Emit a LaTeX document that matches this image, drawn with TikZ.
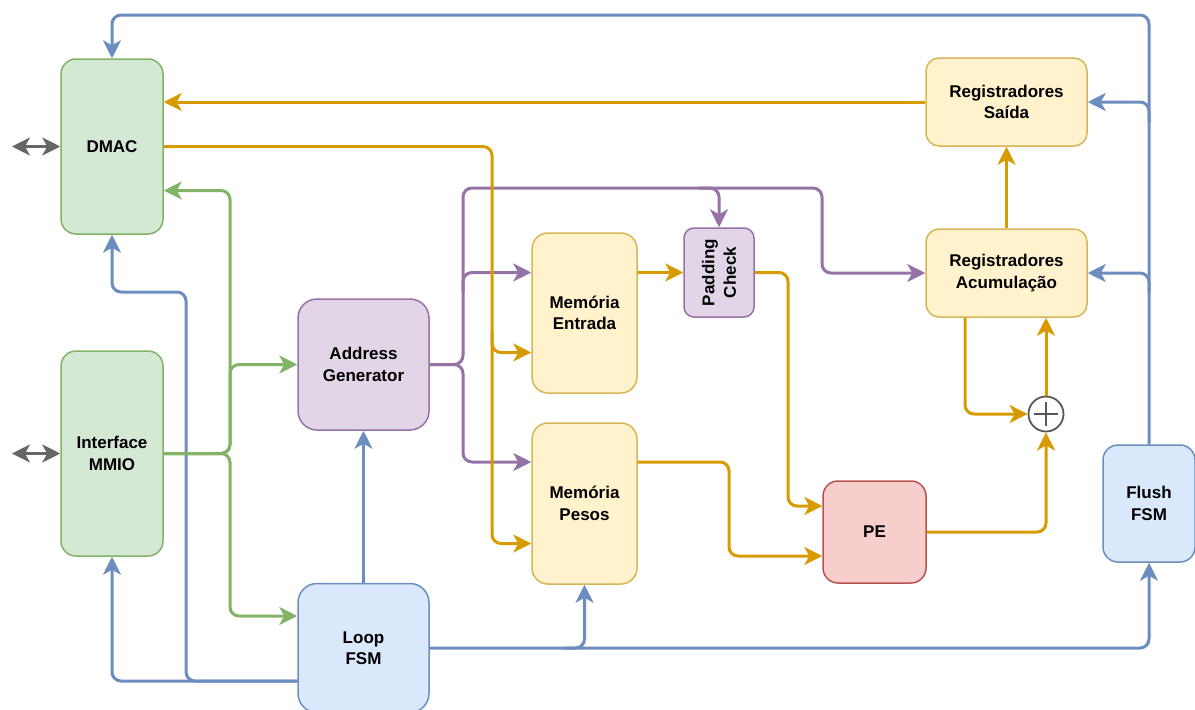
\documentclass[tikz,border=0pt]{standalone}
\usepackage{fontspec}
\setmainfont{Liberation Sans}
\usetikzlibrary{arrows.meta,calc}

\definecolor{gfill}{HTML}{D5E8D4}\definecolor{gline}{HTML}{82B366}
\definecolor{pfill}{HTML}{E1D5E7}\definecolor{pline}{HTML}{9673A6}
\definecolor{yfill}{HTML}{FFF2CC}\definecolor{yline}{HTML}{D6B656}
\definecolor{bfill}{HTML}{DAE8FC}\definecolor{bline}{HTML}{6C8EBF}
\definecolor{rfill}{HTML}{F8CECC}\definecolor{rline}{HTML}{B85450}
\definecolor{orng}{HTML}{D79B00}
\definecolor{gry}{HTML}{666666}

\tikzset{
  box/.style={rectangle, line width=1.5pt, align=center, inner sep=0pt,
    font=\bfseries\fontsize{17}{21.5}\selectfont, text=black},
  gbox/.style={box, draw=gline, fill=gfill},
  pbox/.style={box, draw=pline, fill=pfill},
  ybox/.style={box, draw=yline, fill=yfill},
  bbox/.style={box, draw=bline, fill=bfill},
  rbox/.style={box, draw=rline, fill=rfill},
  wire/.style={line width=3pt, rounded corners=9pt},
  head/.style={Stealth[length=18pt,width=18pt,inset=5pt]},
  tip/.style={-{Stealth[length=18pt,width=18pt,inset=5pt]}},
  bl/.style={wire, tip, draw=bline},
  gr/.style={wire, tip, draw=gline},
  pu/.style={wire, tip, draw=pline},
  or/.style={wire, tip, draw=orng},
  io/.style={wire, draw=gry, {Stealth[length=18pt,width=18pt,inset=5pt]}-{Stealth[length=18pt,width=18pt,inset=5pt]}},
}

\begin{document}
\begin{tikzpicture}[x=1pt,y=-1pt]
\useasboundingbox (0,0) rectangle (1195,710);

% blocks
\node[gbox, rounded corners=15pt, minimum width=102pt, minimum height=175pt] (dmac) at (112,146.5) {DMAC};
\node[gbox, rounded corners=15pt, minimum width=102pt, minimum height=205pt] (mmio) at (112,453.5) {Interface\\MMIO};
\node[pbox, rounded corners=19pt, minimum width=131pt, minimum height=131pt] (ag) at (363.5,364.5) {Address\\Generator};
\node[bbox, rounded corners=19pt, minimum width=131pt, minimum height=129pt] (loop) at (363.5,648) {Loop\\FSM};
\node[ybox, rounded corners=16pt, minimum width=105pt, minimum height=160pt] (me) at (584.5,313) {Memória\\Entrada};
\node[ybox, rounded corners=16pt, minimum width=105pt, minimum height=161pt] (mp) at (584.5,503.5) {Memória\\Pesos};
\node[pbox, rounded corners=10pt, minimum width=70pt, minimum height=89pt] (pc) at (719,272.5) {};
\node[box, rotate=90] at (pc.center) {Padding\\Check};
\node[rbox, rounded corners=15pt, minimum width=103pt, minimum height=102pt] (pe) at (874.5,532) {PE};
\node[ybox, rounded corners=13pt, minimum width=161pt, minimum height=88pt] (rs) at (1006.5,102) {Registradores\\Saída};
\node[ybox, rounded corners=13pt, minimum width=161pt, minimum height=88pt] (ra) at (1006.5,273) {Registradores\\Acumulação};
\node[bbox, rounded corners=15pt, minimum width=92pt, minimum height=117pt] (flush) at (1149,503.5) {Flush\\FSM};
\node[circle, draw=gry!85!black, fill=white, line width=1.8pt, minimum size=35pt, inner sep=0pt] (add) at (1046,414) {};
\draw[gry!85!black, line width=1.6pt] ($(add.center)+(-12,0)$) -- ($(add.center)+(12,0)$)
  ($(add.center)+(0,-12)$) -- ($(add.center)+(0,12)$);

% rails and bends
\coordinate (yT) at (0,15);
\coordinate (xu) at (186,0);
\coordinate (yU) at (0,292);
\coordinate (xg) at (230,0);
\coordinate (xp) at (463,0);
\coordinate (yP) at (0,188);
\coordinate (xq) at (822,0);
\coordinate (xo) at (492,0);
\coordinate (xr) at (788,0);
\coordinate (xs) at (729,0);
\coordinate (xt) at (965,0);
\coordinate (lpW) at ($(loop.west)+(0,33)$);

% control paths (blue)
\draw[bl] (flush.north) |- (dmac.north |- yT) -- (dmac.north);
\draw[bl] ($(flush.north |- rs.east)+(0,20)$) |- (rs.east);
\draw[bl] ($(flush.north |- ra.east)+(0,20)$) |- (ra.east);
\draw[bl] (loop.east) -| (flush.south);
\draw[bl] ($(mp.south |- loop.east)+(-20,0)$) -| (mp.south);
\draw[bl] (loop.north) -- (ag.south);
\draw[bl] (lpW) -| (mmio.south);
\draw[bl] (lpW) -| (xu |- yU) -| (dmac.south);

% configuration paths (green)
\draw[gr] (mmio.east) -| (xg |- 0,190.5) -- (dmac.east |- 0,190.5);
\draw[gr] (mmio.east) -| (xg |- ag.west) -- (ag.west);
\draw[gr] (mmio.east) -| (xg |- 0,616) -- (loop.west |- 0,616);

% address paths (purple)
\draw[pu] (ag.east) -| (xp |- yP) -| (xq |- ra.west) -- (ra.west);
\draw[pu] ($(pc.north |- yP)+(-20,0)$) -| (pc.north);
\draw[pu] ($(xp |- 0,272.5)+(0,20)$) |- (me.west |- 0,272.5);
\draw[pu] (ag.east) -| (xp |- 0,462) -- (mp.west |- 0,462);

% data paths (orange)
\draw[or] (rs.west) -- (rs.west -| dmac.east);
\draw[or] (dmac.east) -| (xo |- 0,543.5) -- (mp.west |- 0,543.5);
\draw[or] ($(xo |- 0,352.5)+(0,-20)$) |- (me.west |- 0,352.5);
\draw[or] (pc.west -| me.east) -- (pc.west);
\draw[or] (pc.east) -| (xr |- 0,506) -- (pe.west |- 0,506);
\draw[or] (mp.east |- 0,462) -| (xs |- 0,556) -- (pe.west |- 0,556);
\draw[or] (pe.east) -| (add.south);
\draw[or] (add.north) -- (add.north |- ra.south);
\draw[or] (ra.south -| xt) |- (add.west);
\draw[or] (ra.north) -- (rs.south);

% external ports
\coordinate (extD) at (12,146.5);
\coordinate (extM) at (12,453.5);
\draw[io] (extD) -- (dmac.west);
\draw[io] (extM) -- (mmio.west);
\end{tikzpicture}
\end{document}
